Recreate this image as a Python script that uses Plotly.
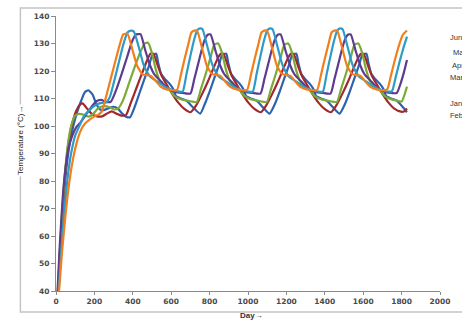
import plotly.graph_objects as go

# ---------------- data ----------------
jan_day = [0, 12, 25, 40, 55, 70, 90, 110, 130, 150, 168, 190, 210, 230, 250, 275, 300, 320, 345, 365, 386,
           410, 435, 460, 485, 500, 522, 532, 547, 566, 590, 609, 626, 650, 678, 710, 751,
           775, 800, 825, 850, 865, 887, 897, 912, 931, 955, 974, 991, 1015, 1043, 1075, 1112,
           1140, 1165, 1190, 1215, 1230, 1252, 1262, 1277, 1296, 1320, 1339, 1356, 1380, 1408, 1440, 1477,
           1505, 1530, 1555, 1580, 1595, 1617, 1627, 1642, 1661, 1685, 1704, 1721, 1745, 1773, 1805, 1828]
jan_temp = [26, 40, 57, 73, 85, 93, 100, 105, 109, 112.3, 113, 111.5, 108, 106, 105.8, 106.5, 107, 106.5, 104.5, 103.4, 103.2,
            107, 112, 117, 122, 125.5, 126.3, 123, 119, 117.2, 115.5, 113.6, 110.8, 110, 109.3, 107, 104.5,
            108, 112.5, 117.5, 122.5, 125.8, 126.3, 123, 119, 117.2, 115.5, 113.6, 110.8, 110, 109.3, 107, 104.5,
            108, 112.5, 117.5, 122.5, 125.8, 126.3, 123, 119, 117.2, 115.5, 113.6, 110.8, 110, 109.3, 107, 104.5,
            108, 112.5, 117.5, 122.5, 125.8, 126.3, 123, 119, 117.2, 115.5, 113.6, 110.8, 110, 109.3, 107, 105]

feb_day = [0, 10, 22, 38, 55, 70, 85, 105, 125, 138, 160, 185, 210, 240, 265, 290, 315, 340, 365,
           390, 420, 450, 475, 492, 507, 532, 552, 577, 607, 637, 667, 700,
           730, 760, 790, 820, 845, 858, 872, 897, 917, 942, 972, 1002, 1032, 1067,
           1095, 1125, 1155, 1185, 1210, 1223, 1237, 1262, 1282, 1307, 1337, 1367, 1397, 1432,
           1460, 1490, 1520, 1550, 1575, 1588, 1602, 1627, 1647, 1672, 1702, 1732, 1762, 1797, 1812, 1828]
feb_temp = [28, 40, 56, 74, 88, 96, 101, 105.5, 107.8, 108.2, 106.5, 104.5, 103.6, 103.5, 104.5, 105.3, 104.5, 103.8, 104,
            108.5, 114, 119.5, 124, 126.3, 126.3, 121.5, 118, 115, 111.5, 108.5, 106.3, 105,
            107.5, 111.5, 116, 121, 125, 126.3, 126.3, 121.5, 118, 115, 111.5, 108.5, 106.3, 105,
            107.5, 111.5, 116, 121, 125, 126.3, 126.3, 121.5, 118, 115, 111.5, 108.5, 106.3, 105,
            107.5, 111.5, 116, 121, 125, 126.3, 126.3, 121.5, 118, 115, 111.5, 108.5, 106.3, 105.2, 105.3, 106.4]

mar_day = [0, 10, 22, 38, 55, 70, 85, 100, 120, 145, 170, 195, 220, 250, 280, 305, 325,
           350, 380, 410, 440, 462, 480,
           500, 520, 540, 565, 592, 615, 640, 675, 705, 733,
           755, 780, 805, 825, 845, 865, 885, 905, 930, 957, 980, 1005, 1040, 1070, 1098,
           1120, 1145, 1170, 1190, 1210, 1230, 1250, 1270, 1295, 1322, 1345, 1370, 1405, 1435, 1463,
           1485, 1510, 1535, 1555, 1575, 1595, 1615, 1635, 1660, 1687, 1710, 1735, 1770, 1800, 1815, 1828]
mar_temp = [27, 40, 57, 75, 89, 97, 101.5, 103.8, 104.4, 104.1, 103.4, 104.5, 106.5, 107.2, 106.8, 106, 106.5,
            109.5, 115.5, 121.5, 127, 130, 130.3,
            126.5, 120.5, 116.5, 114.5, 113, 111, 110, 109.3, 108.9, 108.7,
            113.5, 119, 125, 129.6, 130, 126.5, 120.5, 116.5, 114.5, 113, 111, 110, 109.3, 108.9, 108.7,
            113.5, 119, 125, 129.6, 130, 126.5, 120.5, 116.5, 114.5, 113, 111, 110, 109.3, 108.9, 108.7,
            113.5, 119, 125, 129.6, 130, 126.5, 120.5, 116.5, 114.5, 113, 111, 110, 109.3, 108.9, 111.3, 114.3]

apr_day = [0, 8, 20, 35, 50, 65, 85, 105, 130, 155, 180, 210, 235, 260, 285,
           310, 340, 370, 395, 415, 440,
           465, 490, 510, 524, 550, 585, 620, 660, 700,
           720, 740, 760, 775, 790, 805, 830, 855, 875, 889, 915, 950, 985, 1025, 1065,
           1085, 1105, 1125, 1140, 1155, 1170, 1195, 1220, 1240, 1254, 1280, 1315, 1350, 1390, 1430,
           1450, 1470, 1490, 1505, 1520, 1535, 1560, 1585, 1605, 1619, 1645, 1680, 1715, 1750, 1775,
           1795, 1812, 1828]
apr_temp = [27, 40, 57, 74, 85, 92, 96.5, 99.5, 101.5, 104, 106.5, 109, 109.5, 108.8, 108.8,
            112.5, 118.5, 125, 130.5, 133.2, 133.4,
            127.5, 122, 119, 117.8, 116, 113.5, 112.4, 112, 111.8,
            117, 122.5, 128, 131.5, 133.2, 133.3, 127.5, 122, 119, 117.8, 116, 113.5, 112.4, 112, 111.8,
            117, 122.5, 128, 131.5, 133.2, 133.3, 127.5, 122, 119, 117.8, 116, 113.5, 112.4, 112, 111.8,
            117, 122.5, 128, 131.5, 133.2, 133.3, 127.5, 122, 119, 117.8, 116, 113.5, 112.4, 112, 112,
            115.5, 119.5, 124]

may_day = [0, 14, 28, 45, 62, 80, 100, 125, 145, 170, 200, 230, 260, 280, 300, 325, 350, 372, 390, 405,
           430, 455, 475, 492, 515, 544, 575, 610, 645, 660,
           680, 700, 718, 735, 750, 763, 788, 813, 833, 850, 873, 902, 933, 968, 1003, 1025,
           1045, 1065, 1083, 1100, 1115, 1128, 1153, 1178, 1198, 1215, 1238, 1267, 1298, 1333, 1368, 1390,
           1410, 1430, 1448, 1465, 1480, 1493, 1518, 1543, 1563, 1580, 1603, 1632, 1663, 1698, 1733, 1750,
           1770, 1790, 1810, 1828]
may_temp = [25, 40, 55, 70, 82, 90.5, 96.5, 100.5, 103.5, 105.5, 107.3, 108.3, 108.5, 110.5, 115.5, 122.5, 129.5, 134, 134.7, 134.4,
            129, 122.5, 119.5, 117.8, 116.8, 115.4, 114, 113, 112.5, 112.5,
            119, 125.5, 131, 134.8, 135.5, 135.2, 129, 122.5, 119.5, 117.8, 116.8, 115.4, 114, 113, 112.5, 112.5,
            119, 125.5, 131, 134.8, 135.5, 135.2, 129, 122.5, 119.5, 117.8, 116.8, 115.4, 114, 113, 112.5, 112.5,
            119, 125.5, 131, 134.8, 135.5, 135.2, 129, 122.5, 119.5, 117.8, 116.8, 115.4, 114, 113, 112.5, 112.7,
            118, 123.5, 128.5, 132.5]

jun_day = [0, 16, 30, 50, 70, 90, 110, 130, 150, 175, 200, 225, 240, 261, 290, 320, 340, 350, 372,
           397, 422, 450, 475, 495, 520, 545, 575, 610, 631,
           650, 670, 690, 705, 720, 735, 760, 785, 811, 835, 855, 880, 908, 940, 975, 996,
           1015, 1035, 1055, 1070, 1085, 1100, 1125, 1150, 1176, 1200, 1220, 1245, 1273, 1305, 1340, 1361,
           1380, 1400, 1420, 1435, 1450, 1465, 1490, 1515, 1541, 1565, 1585, 1610, 1638, 1670, 1705, 1726,
           1745, 1765, 1785, 1805, 1828]
jun_temp = [24, 40, 53, 68, 80, 88.5, 94.5, 98.5, 100.8, 102.3, 103.5, 104.3, 105.5, 110.7, 118.5, 126.5, 131.5, 133.3, 133.6,
            128, 122, 118.8, 118.5, 118.2, 116.3, 114.3, 113.3, 113, 113.2,
            118.5, 124.5, 130, 134, 134.7, 134.6, 128.5, 122, 119, 118.5, 118.3, 116.3, 114.2, 113.3, 113, 113.2,
            118.5, 124.5, 130, 134, 134.7, 134.6, 128.5, 122, 119, 118.5, 118.3, 116.3, 114.2, 113.3, 113, 113.2,
            118.5, 124.5, 130, 134, 134.7, 134.6, 128.5, 122, 119, 118.5, 118.3, 116.3, 114.2, 113.3, 113, 113.5,
            118.5, 124, 129, 133, 134.7]

series_names = ["Jan", "Feb", "Mar", "Apr", "May", "Jun"]
x_ticks = [0, 200, 400, 600, 800, 1000, 1200, 1400, 1600, 1800, 2000]
y_ticks = [40, 50, 60, 70, 80, 90, 100, 110, 120, 130, 140]

# ---------------- styling ----------------
colors = {"Jan": "#2B63AE", "Feb": "#A3282C", "Mar": "#7BAA3A",
          "Apr": "#5D3B8E", "May": "#2E9BC6", "Jun": "#F27E1C"}
data = {"Jan": (jan_day, jan_temp), "Feb": (feb_day, feb_temp), "Mar": (mar_day, mar_temp),
        "Apr": (apr_day, apr_temp), "May": (may_day, may_temp), "Jun": (jun_day, jun_temp)}

W, H = 462, 327
L, R, T, B = 56, 444, 16, 291   # plot area in pixels


def px(xp):
    return (xp - L) / (R - L)


def py(yp):
    return (B - yp) / (B - T)


fig = go.Figure()
for name in series_names:
    d, t = data[name]
    fig.add_trace(go.Scatter(x=d, y=t, mode="lines", name=name, hoverinfo="skip",
                             line=dict(color=colors[name], width=2.2, shape="spline", smoothing=0.5)))

tick_font = dict(family="DejaVu Sans", size=7.5, color="#4a4a4a", weight="bold")
fig.update_layout(
    width=W, height=H,
    margin=dict(l=L, r=W - R, t=T, b=H - B),
    paper_bgcolor="white", plot_bgcolor="white",
    showlegend=False,
    xaxis=dict(range=[0, 2000], tickvals=x_ticks, ticktext=[str(v) for v in x_ticks],
               showgrid=False, zeroline=False, showline=True, linecolor="#8a8a8a", linewidth=1,
               ticks="outside", ticklen=3, tickcolor="#8a8a8a", tickfont=tick_font),
    yaxis=dict(range=[40, 140], tickvals=y_ticks, ticktext=[str(v) for v in y_ticks],
               showgrid=False, zeroline=False, showline=True, linecolor="#8a8a8a", linewidth=1,
               ticks="outside", ticklen=4, tickcolor="#8a8a8a", tickfont=tick_font),
)

# chart border (right side runs off the picture)
fig.add_shape(type="rect", xref="paper", yref="paper",
              x0=px(20), x1=px(475), y0=py(312), y1=py(8),
              line=dict(color="#c4c4c4", width=1.5), fillcolor="rgba(0,0,0,0)", layer="below")

# axis titles
fig.add_annotation(xref="paper", yref="paper", x=px(254), y=py(322), text="<b>Day→</b>",
                   showarrow=False, font=dict(family="Liberation Sans", size=8, color="#333333"))
fig.add_annotation(xref="paper", yref="paper", x=px(13), y=py(140), text="Temperature (°C)→",
                   textangle=-90, showarrow=False, bgcolor="white",
                   font=dict(family="Liberation Sans", size=8, color="#222222"))

# legend labels at right edge (cut off by picture edge, as in the reference)
legend_pos = [("Jun", 452, 31), ("May", 455, 46), ("Apr", 454, 59),
              ("Mar", 452, 71), ("Jan", 452, 97), ("Feb", 452, 115)]
for txt, xp, yp in legend_pos:
    fig.add_annotation(xref="paper", yref="paper", x=px(xp), y=py(yp), text=txt,
                       xanchor="left", showarrow=False,
                       font=dict(family="Liberation Sans", size=7.5, color="#333333"))

fig.write_html("out.html", config={"displayModeBar": False},
               post_script="document.body.style.margin='0';")
